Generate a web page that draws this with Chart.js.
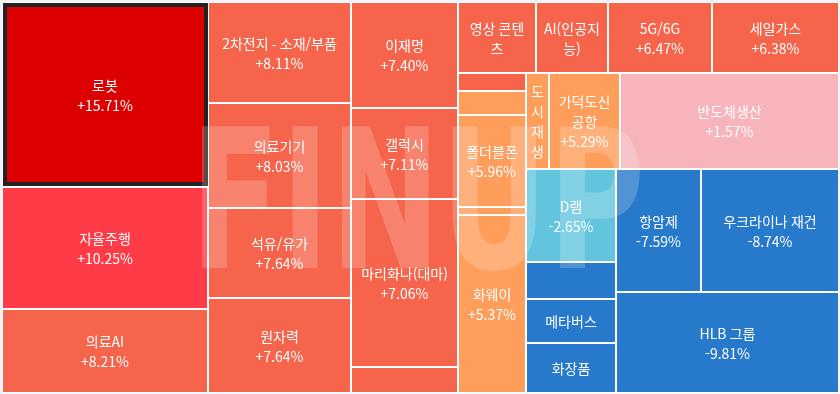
<!DOCTYPE html>
<html lang="ko">
<head>
<meta charset="utf-8">
<title>테마 등락률</title>
<script src="https://cdn.jsdelivr.net/npm/chart.js@4.4.1/dist/chart.umd.min.js"></script>
<style>
  html, body { margin: 0; padding: 0; background: #f1f3f8; }
  #wrap { width: 840px; height: 394px; }
</style>
</head>
<body>
<div id="wrap"><canvas id="chart" width="840" height="394"></canvas></div>
<script>
/* global Chart */

// themes in the order the map lays them out (sorted by change)
const themes = [
  "로봇", "자율주행", "의료AI",
  "2차전지 - 소재/부품", "의료기기", "석유/유가", "원자력",
  "이재명", "갤럭시", "마리화나(대마)", "",
  "영상 콘텐츠", "AI(인공지능)", "5G/6G", "세일가스",
  "", "", "폴더블폰", "", "화웨이",
  "도시재생", "가덕도신공항", "반도체생산",
  "D램", "", "메타버스", "화장품",
  "항암제", "우크라이나 재건",
  "HLB 그룹"
];

// daily change, %
const changes = [
  15.71, 10.25, 8.21,
  8.11, 8.03, 7.64, 7.64,
  7.4, 7.11, 7.06, 7.0,
  6.9, 6.6, 6.47, 6.38,
  6.1, 5.98, 5.96, 5.6, 5.37,
  5.33, 5.29, 1.57,
  -2.65, -6.0, -6.8, -7.2,
  -7.59, -8.74,
  -9.81
];

// relative weight of each tile
const weights = [
  38110, 25132, 17304,
  14443, 15015, 12870, 13585,
  11342, 9737, 17976, 2782,
  5538, 5112, 7384, 9017,
  1224, 1632, 6256, 544, 12104,
  2208, 6816, 21024,
  8370, 3330, 3960, 4500,
  10455, 16974,
  22523
];

// how many tiles go in each squarified row
const rowCounts = [3, 4, 4, 4, 5, 3, 4, 2, 1];

const W = 837;
const H = 391;

const colorFor = (c) => {
  if (c >= 15) return "#dc0000";
  if (c >= 10) return "#ff3b47";
  if (c >= 6) return "#f5644b";
  if (c >= 3) return "#ff9d5a";
  if (c >= 0) return "#f7b5bb";
  if (c > -3) return "#62c5dd";
  return "#2779cc";
};

const fmtPct = (v) => `${v > 0 ? "+" : ""}${v.toFixed(2)}%`;

const squarifyRows = (values, counts, w, h) => {
  const total = values.reduce((a, b) => a + b, 0);
  const k = (w * h) / total;
  let x0 = 0, y0 = 0;
  const x1 = w, y1 = h;
  let i = 0;
  const rects = [];
  for (const n of counts) {
    const row = values.slice(i, i + n).map((v) => v * k);
    const sum = row.reduce((a, b) => a + b, 0);
    const rw = x1 - x0, rh = y1 - y0;
    if (rw > rh) {
      const cw = sum / rh;
      let y = y0;
      for (const a of row) {
        const ch = a / cw;
        rects.push({ x0, y0: y, x1: x0 + cw, y1: y + ch });
        y += ch;
      }
      x0 += cw;
    } else {
      const sh = sum / rw;
      let x = x0;
      for (const a of row) {
        const cw = a / sh;
        rects.push({ x0: x, y0, x1: x + cw, y1: y0 + sh });
        x += cw;
      }
      y0 += sh;
    }
    i += n;
  }
  return rects;
};

const rects = squarifyRows(weights, rowCounts, W, H);

const wrapChars = (ctx, text, maxW) => {
  const lines = [];
  let line = "";
  for (const ch of text) {
    const t = line + ch;
    if (line && ctx.measureText(t).width > maxW) {
      lines.push(line.trimEnd());
      line = ch === " " ? "" : ch;
    } else {
      line = t;
    }
  }
  if (line) lines.push(line);
  return lines;
};

const treemapPlugin = {
  id: "treemapCells",
  beforeDatasetsDraw(chart) {
    const { ctx } = chart;
    const xs = chart.scales.x;
    const ys = chart.scales.y;
    const lineH = 20;

    ctx.save();
    ctx.fillStyle = "#ffffff";
    ctx.fillRect(xs.getPixelForValue(0), ys.getPixelForValue(0),
      xs.getPixelForValue(W) - xs.getPixelForValue(0), ys.getPixelForValue(H) - ys.getPixelForValue(0));

    rects.forEach((r, i) => {
      const left = xs.getPixelForValue(r.x0) + 1;
      const right = xs.getPixelForValue(r.x1) - 1;
      const top = ys.getPixelForValue(r.y0) + 1;
      const bottom = ys.getPixelForValue(r.y1) - 1;
      ctx.fillStyle = colorFor(changes[i]);
      ctx.fillRect(left, top, right - left, bottom - top);
    });

    // selected tile
    const s = rects[0];
    const sl = xs.getPixelForValue(s.x0) + 1;
    const sr = xs.getPixelForValue(s.x1);
    const st = ys.getPixelForValue(s.y0) + 1;
    const sb = ys.getPixelForValue(s.y1) - 1;
    ctx.strokeStyle = "#222222";
    ctx.lineWidth = 4;
    ctx.strokeRect(sl + 2, st + 2, sr - sl - 4, sb - st - 4);

    // watermark
    ctx.save();
    ctx.fillStyle = "rgba(255, 255, 255, 0.2)";
    ctx.font = "bold 194px 'DejaVu Sans', sans-serif";
    ctx.textBaseline = "alphabetic";
    ctx.textAlign = "left";
    const wmW = ctx.measureText("FINUP").width;
    ctx.translate(190, 268);
    ctx.scale(455 / wmW, 1);
    ctx.fillText("FINUP", 0, 0);
    ctx.restore();

    ctx.font = "14px 'Noto Sans CJK KR', 'Noto Sans', sans-serif";
    ctx.fillStyle = "#ffffff";
    ctx.textAlign = "center";
    ctx.textBaseline = "middle";
    rects.forEach((r, i) => {
      if (!themes[i]) return;
      const left = xs.getPixelForValue(r.x0);
      const right = xs.getPixelForValue(r.x1);
      const top = ys.getPixelForValue(r.y0);
      const bottom = ys.getPixelForValue(r.y1);
      const w = right - left, h = bottom - top;
      const lines = wrapChars(ctx, themes[i], w - 12);
      if ((lines.length + 1) * lineH + 14 <= h) {
        lines.push(fmtPct(changes[i]));
      } else if (lines.length * lineH + 14 > h) {
        return;
      }
      const cx = (left + right) / 2;
      const cy = (top + bottom) / 2 + 1;
      let y = cy - (lines.length * lineH) / 2 + lineH / 2;
      for (const ln of lines) {
        ctx.fillText(ln, cx, y);
        y += lineH;
      }
    });
    ctx.restore();
  }
};

new Chart(document.getElementById("chart").getContext("2d"), {
  type: "scatter",
  data: {
    datasets: [{
      label: "테마",
      data: rects.map((r) => ({ x: (r.x0 + r.x1) / 2, y: (r.y0 + r.y1) / 2 })),
      pointRadius: 0
    }]
  },
  options: {
    responsive: false,
    animation: false,
    layout: { padding: { left: 2, top: 2, right: 1, bottom: 1 } },
    plugins: { legend: { display: false }, tooltip: { enabled: false } },
    scales: {
      x: { type: "linear", min: 0, max: W, display: false },
      y: { type: "linear", min: 0, max: H, reverse: true, display: false }
    }
  },
  plugins: [treemapPlugin]
});
</script>
</body>
</html>
